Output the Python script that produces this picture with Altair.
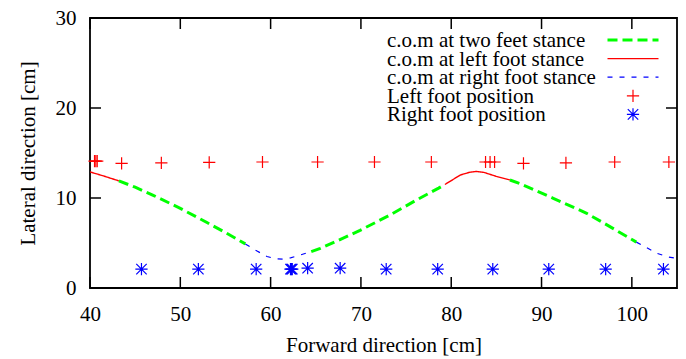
import altair as alt
import pandas as pd

# ---- series names ----
S_TWO = "c.o.m at two feet stance"
S_LEFT = "c.o.m at left foot stance"
S_RIGHT = "c.o.m at right foot stance"
F_LEFT = "Left foot position"
F_RIGHT = "Right foot position"
SERIES = [S_TWO, S_LEFT, S_RIGHT, F_LEFT, F_RIGHT]
LINE_SERIES = [S_TWO, S_LEFT, S_RIGHT]
FOOT_SERIES = [F_LEFT, F_RIGHT]

# ---- centre of mass trajectory, split into stance phases ----
red1_x = [40.0, 41.5, 43.2]
red1_y = [12.9, 12.45, 11.9]
green1_x = [43.2, 45.0, 47.0, 50.0, 52.9, 55.1, 57.2]
green1_y = [11.9, 11.2, 10.3, 8.85, 7.3, 6.1, 4.9]
blue1_x = [57.2, 58.5, 59.6, 60.5, 61.4, 62.2, 62.9, 64.5]
blue1_y = [4.9, 4.1, 3.5, 3.25, 3.2, 3.35, 3.55, 4.05]
green2_x = [64.5, 65.5, 67.5, 69.9, 73.2, 76.2, 78.6, 79.3]
green2_y = [4.05, 4.4, 5.3, 6.4, 8.1, 9.8, 11.1, 11.5]
red2_x = [79.3, 81.0, 82.0, 82.8, 83.6, 85.0, 86.5]
red2_y = [11.5, 12.55, 12.85, 12.95, 12.85, 12.4, 12.0]
green3_x = [86.5, 87.6, 91.3, 95.0, 97.95, 100.5]
green3_y = [12.0, 11.6, 9.97, 8.3, 6.6, 5.1]
blue2_x = [100.5, 101.6, 102.8, 104.0, 105.0]
blue2_y = [5.1, 4.5, 3.85, 3.45, 3.3]

# ---- foot positions ----
left_x = [40.5, 40.65, 40.8, 43.5, 47.9, 53.2, 59.1, 65.2, 71.5, 77.8,
          83.8, 84.3, 84.8, 88.0, 92.7, 98.1, 104.1]
left_y = [14.1, 14.1, 14.1, 13.85, 13.9, 13.95, 14.0, 14.0, 14.0, 14.0,
          14.0, 14.0, 14.0, 13.85, 13.9, 14.0, 14.0]
right_x = [45.7, 52.0, 58.4, 62.2, 62.3, 62.4, 64.1, 67.7, 72.8, 78.5,
           84.6, 90.8, 97.1, 103.5]
right_y = [2.1, 2.1, 2.1, 2.1, 2.1, 2.1, 2.2, 2.2, 2.1, 2.1,
           2.1, 2.1, 2.1, 2.1]

# ---- axis ticks ----
x_ticks = [40, 50, 60, 70, 80, 90, 100]
y_ticks = [0, 10, 20, 30]

segments = [
    ("r1", S_LEFT, red1_x, red1_y),
    ("g1", S_TWO, green1_x, green1_y),
    ("b1", S_RIGHT, blue1_x, blue1_y),
    ("g2", S_TWO, green2_x, green2_y),
    ("r2", S_LEFT, red2_x, red2_y),
    ("g3", S_TWO, green3_x, green3_y),
    ("b2", S_RIGHT, blue2_x, blue2_y),
]
rows = []
for seg, ser, xs, ys in segments:
    for i, (a, b) in enumerate(zip(xs, ys)):
        rows.append({"x": a, "y": b, "series": ser, "seg": seg, "o": i})
lines_df = pd.DataFrame(rows)

feet_df = pd.DataFrame(
    [{"x": a, "y": b, "series": F_LEFT} for a, b in zip(left_x, left_y)]
    + [{"x": a, "y": b, "series": F_RIGHT} for a, b in zip(right_x, right_y)]
)
xt_df = pd.DataFrame({"t": x_ticks})
yt_df = pd.DataFrame({"t": y_ticks})
legend_df = pd.DataFrame({"series": SERIES, "row": list(range(len(SERIES)))})

FONT = "Liberation Serif"
W, H = 587, 270

PLUS = "M-1,0L1,0M0,-1L0,1"
STAR = "M-1,0L1,0M0,-1L0,1M-0.85,-0.85L0.85,0.85M-0.85,0.85L0.85,-0.85"

xscale = alt.Scale(domain=[40, 105], nice=False, zero=False)
yscale = alt.Scale(domain=[0, 30], nice=False, zero=False)

color = alt.Color("series:N", scale=alt.Scale(
    domain=SERIES, range=["#00ff00", "#ff0000", "#0000ff", "#ff0000", "#0000ff"]), legend=None)
swidth = alt.StrokeWidth("series:N", scale=alt.Scale(
    type="ordinal", domain=LINE_SERIES, range=[3, 1.4, 1.2]), legend=None)
sdash = alt.StrokeDash("series:N", scale=alt.Scale(
    domain=LINE_SERIES, range=[[10, 5], [1, 0], [5, 7]]), legend=None)
shape = alt.Shape("series:N", scale=alt.Scale(
    domain=FOOT_SERIES, range=[PLUS, STAR]), legend=None)

axis_style = dict(
    labelFont=FONT, labelFontSize=21, labelColor="black", labelFlush=False,
    labelOverlap=False, titleFont=FONT, titleFontSize=21, titleColor="black",
    titleFontWeight="normal", domain=False, ticks=False, grid=False,
)
xaxis = alt.Axis(title="Forward direction [cm]", values=x_ticks, labelPadding=15,
                 titlePadding=10, **axis_style)
yaxis = alt.Axis(title="Lateral direction [cm]", values=y_ticks, labelPadding=14,
                 titlePadding=17, **axis_style)

lines = alt.Chart(lines_df).mark_line(clip=True).encode(
    x=alt.X("x:Q", scale=xscale, axis=xaxis),
    y=alt.Y("y:Q", scale=yscale, axis=yaxis),
    color=color, strokeWidth=swidth, strokeDash=sdash,
    detail="seg:N", order="o:Q",
)

feet = alt.Chart(feet_df).mark_point(filled=False, opacity=1, size=150, strokeWidth=1.2).encode(
    x=alt.X("x:Q", scale=xscale, axis=xaxis),
    y=alt.Y("y:Q", scale=yscale, axis=yaxis),
    color=color, shape=shape,
)

TL = 11
tick_style = dict(color="black", strokeWidth=1.5)
bottom_t = alt.Chart(xt_df).mark_rule(**tick_style).encode(
    x=alt.X("t:Q", scale=xscale, axis=xaxis), y=alt.value(H), y2=alt.value(H - TL))
top_t = alt.Chart(xt_df).mark_rule(**tick_style).encode(
    x=alt.X("t:Q", scale=xscale, axis=xaxis), y=alt.value(0), y2=alt.value(TL))
left_t = alt.Chart(yt_df).mark_rule(**tick_style).encode(
    y=alt.Y("t:Q", scale=yscale, axis=yaxis), x=alt.value(0), x2=alt.value(TL))
right_t = alt.Chart(yt_df).mark_rule(**tick_style).encode(
    y=alt.Y("t:Q", scale=yscale, axis=yaxis), x=alt.value(W), x2=alt.value(W - TL))

# ---- key (gnuplot style: text left, sample right), pixel layout ----
leg_base = alt.Chart(legend_df).transform_calculate(ly="22 + 18.6 * datum.row")
leg_text = leg_base.mark_text(
    align="left", baseline="middle", font=FONT, fontSize=21, color="black", dy=1
).encode(
    x=alt.value(297), y=alt.Y("ly:Q", scale=None), text="series:N")
leg_lines = leg_base.transform_filter("datum.row < 3").mark_rule().encode(
    x=alt.value(517.5), x2=alt.value(568.5),
    y=alt.Y("ly:Q", scale=None),
    color=color, strokeWidth=swidth, strokeDash=sdash)
leg_pts = leg_base.transform_filter("datum.row >= 3").mark_point(
    filled=False, opacity=1, size=150, strokeWidth=1.2).encode(
    x=alt.value(543), y=alt.Y("ly:Q", scale=None),
    color=color, shape=shape)

chart = alt.layer(lines, feet, bottom_t, top_t, left_t, right_t,
                  leg_text, leg_lines, leg_pts).properties(
    width=W, height=H,
    autosize=alt.AutoSizeParams(type="none"),
    padding={"left": 90, "top": 18, "right": 9, "bottom": 71},
    background="white",
).configure_view(
    stroke="black", strokeWidth=1.8,
).configure_axis(
    domain=False, ticks=False, grid=False,
    labelFont=FONT, labelFontSize=21, labelColor="black",
    titleFont=FONT, titleFontSize=21, titleColor="black", titleFontWeight="normal",
)

chart.save("out.html", embed_options={"renderer": "svg", "actions": False})
